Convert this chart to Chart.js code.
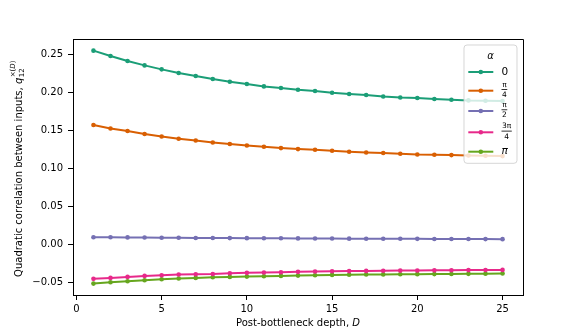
<!DOCTYPE html>
<html>
<head>
<meta charset="utf-8">
<script src="https://cdn.jsdelivr.net/npm/chart.js@4.4.1/dist/chart.umd.min.js"></script>
<style>
html,body{margin:0;padding:0;background:#fff;}
#wrap{width:581px;height:332px;position:relative;}
</style>
</head>
<body>
<div id="wrap"><canvas id="c" width="581" height="332"></canvas></div>
<script>
const depths = [1,2,3,4,5,6,7,8,9,10,11,12,13,14,15,16,17,18,19,20,21,22,23,24,25];
const alphaLabels = ['0','π/4','π/2','3π/4','π'];
const colors = ['#1b9e77','#d95f02','#7570b3','#e7298a','#66a61e'];
const alpha0 = [0.2553,0.2483,0.2417,0.2359,0.2307,0.2259,0.2220,0.2180,0.2145,0.2114,0.2083,0.2062,0.2039,0.2022,0.2000,0.1983,0.1970,0.1951,0.1938,0.1930,0.1917,0.1908,0.1899,0.1895,0.1891];
const alphaPi4 = [0.1575,0.1530,0.1496,0.1457,0.1425,0.1395,0.1372,0.1346,0.1325,0.1307,0.1289,0.1272,0.1259,0.1250,0.1237,0.1224,0.1215,0.1207,0.1197,0.1188,0.1184,0.1180,0.1175,0.1171,0.1167];
const alphaPi2 = [0.0101,0.0100,0.0098,0.0096,0.0094,0.0093,0.0091,0.0090,0.0089,0.0088,0.0087,0.0086,0.0085,0.0084,0.0083,0.0082,0.0081,0.0080,0.0080,0.0079,0.0078,0.0077,0.0077,0.0076,0.0075];
const alpha3Pi4 = [-0.0447,-0.0434,-0.0421,-0.0408,-0.0399,-0.0390,-0.0386,-0.0382,-0.0373,-0.0368,-0.0364,-0.0360,-0.0355,-0.0351,-0.0347,-0.0345,-0.0342,-0.0340,-0.0338,-0.0336,-0.0335,-0.0333,-0.0332,-0.0331,-0.0329];
const alphaPi = [-0.0509,-0.0491,-0.0478,-0.0465,-0.0452,-0.0443,-0.0434,-0.0425,-0.0421,-0.0417,-0.0412,-0.0408,-0.0404,-0.0399,-0.0395,-0.0393,-0.0390,-0.0388,-0.0386,-0.0385,-0.0384,-0.0382,-0.0381,-0.0380,-0.0377];
const xTicks = [0,5,10,15,20,25];
const yTicks = [-0.05,0.00,0.05,0.10,0.15,0.20,0.25];
const xTitle = 'Post-bottleneck depth, ';
const xTitleVar = 'D';
const yTitle = 'Quadratic correlation between inputs, ';
const legendTitle = 'α';

const seriesList = [alpha0, alphaPi4, alphaPi2, alpha3Pi4, alphaPi];
const FONT = '"DejaVu Sans", sans-serif';

const datasets = seriesList.map((s, i) => ({
  label: alphaLabels[i],
  data: s.map((v, j) => ({x: depths[j], y: v})),
  borderColor: colors[i],
  backgroundColor: colors[i],
  borderWidth: 2,
  pointRadius: 2.3,
  pointBorderWidth: 0,
  pointHoverRadius: 2.3,
  tension: 0,
  fill: false
}));

function drawFraction(ctx, x, cy, num, den, color) {
  ctx.font = '7.5px ' + FONT;
  const wn = ctx.measureText(num).width, wd = ctx.measureText(den).width;
  const w = Math.max(wn, wd) + 1;
  ctx.fillStyle = color;
  ctx.textAlign = 'center';
  ctx.textBaseline = 'middle';
  ctx.fillText(num, x + w / 2, cy - 6);
  ctx.fillText(den, x + w / 2, cy + 4.5);
  ctx.fillRect(x, cy - 1.6, w, 0.8);
}

const customPlugin = {
  id: 'custom',
  afterDraw(chart) {
    const ctx = chart.ctx;
    const a = chart.chartArea;
    ctx.save();
    ctx.strokeStyle = '#000';
    ctx.lineWidth = 1;
    ctx.beginPath();
    ctx.moveTo(a.left, a.top + 0.5);
    ctx.lineTo(a.right + 0.5, a.top + 0.5);
    ctx.lineTo(a.right + 0.5, a.bottom);
    ctx.stroke();

    // x title
    ctx.fillStyle = '#000';
    ctx.textBaseline = 'middle';
    ctx.font = '10px ' + FONT;
    const w1 = ctx.measureText(xTitle).width;
    ctx.font = 'italic 10px ' + FONT;
    const w2 = ctx.measureText(xTitleVar).width;
    const cx = (a.left + a.right) / 2;
    let sx = cx - (w1 + w2) / 2;
    ctx.textAlign = 'left';
    ctx.font = '10px ' + FONT;
    ctx.fillText(xTitle, sx, 323.5);
    ctx.font = 'italic 10px ' + FONT;
    ctx.fillText(xTitleVar, sx + w1, 323.5);

    // y title (rotated)
    ctx.save();
    ctx.translate(17.5, (a.top + a.bottom) / 2 + 2);
    ctx.rotate(-Math.PI / 2);
    ctx.font = '10px ' + FONT;
    const m = ctx.measureText(yTitle).width;
    ctx.font = 'italic 10px ' + FONT;
    const q = ctx.measureText('q').width;
    ctx.font = '7px ' + FONT;
    const sub = ctx.measureText('12').width;
    const supA = ctx.measureText('×(').width;
    ctx.font = 'italic 7px ' + FONT;
    const supD = ctx.measureText('D').width;
    ctx.font = '7px ' + FONT;
    const supC = ctx.measureText(')').width;
    const W = m + q + Math.max(sub, supA + supD + supC);
    let x0 = -W / 2;
    ctx.textAlign = 'left';
    ctx.textBaseline = 'alphabetic';
    const base = 4;
    ctx.font = '10px ' + FONT;
    ctx.fillText(yTitle, x0, base);
    x0 += m;
    ctx.font = 'italic 10px ' + FONT;
    ctx.fillText('q', x0, base);
    x0 += q + 0.5;
    ctx.font = '7px ' + FONT;
    ctx.fillText('12', x0, base + 2.5);
    ctx.fillText('×(', x0, base - 6.5);
    ctx.font = 'italic 7px ' + FONT;
    ctx.fillText('D', x0 + supA, base - 6.5);
    ctx.font = '7px ' + FONT;
    ctx.fillText(')', x0 + supA + supD, base - 6.5);
    ctx.restore();

    // legend
    const lx = 464, ly = 45, lw = 53, lh = 118.3, r = 3;
    ctx.beginPath();
    ctx.moveTo(lx + r, ly);
    ctx.lineTo(lx + lw - r, ly);
    ctx.quadraticCurveTo(lx + lw, ly, lx + lw, ly + r);
    ctx.lineTo(lx + lw, ly + lh - r);
    ctx.quadraticCurveTo(lx + lw, ly + lh, lx + lw - r, ly + lh);
    ctx.lineTo(lx + r, ly + lh);
    ctx.quadraticCurveTo(lx, ly + lh, lx, ly + lh - r);
    ctx.lineTo(lx, ly + r);
    ctx.quadraticCurveTo(lx, ly, lx + r, ly);
    ctx.closePath();
    ctx.fillStyle = 'rgba(255,255,255,0.8)';
    ctx.fill();
    ctx.strokeStyle = 'rgba(204,204,204,0.8)';
    ctx.lineWidth = 1;
    ctx.stroke();

    ctx.fillStyle = '#000';
    ctx.font = 'italic 10px ' + FONT;
    ctx.textAlign = 'center';
    ctx.textBaseline = 'middle';
    ctx.fillText(legendTitle, 490.5, 56);

    const rowY = [72, 90.7, 111, 132.3, 151.7];
    alphaLabels.forEach((lab, i) => {
      const y = rowY[i];
      ctx.strokeStyle = colors[i];
      ctx.lineWidth = 2;
      ctx.beginPath();
      ctx.moveTo(468.3, y);
      ctx.lineTo(493.3, y);
      ctx.stroke();
      ctx.fillStyle = colors[i];
      ctx.beginPath();
      ctx.arc(480.8, y, 2.3, 0, Math.PI * 2);
      ctx.fill();
      if (lab.includes('/')) {
        const [n, d] = lab.split('/');
        drawFraction(ctx, 501.5, y, n, d, '#000');
      } else {
        ctx.fillStyle = '#000';
        ctx.textAlign = 'left';
        ctx.textBaseline = 'middle';
        ctx.font = (lab === 'π' ? 'italic ' : '') + '10.5px ' + FONT;
        ctx.fillText(lab, 501.5, y);
      }
    });
    ctx.restore();
  }
};

new Chart(document.getElementById('c'), {
  type: 'line',
  data: {datasets},
  options: {
    responsive: false,
    animation: false,
    devicePixelRatio: 1,
    layout: {padding: {top: 39, right: 58, left: 0, bottom: 0}},
    plugins: {legend: {display: false}, tooltip: {enabled: false}},
    scales: {
      x: {
        type: 'linear',
        min: -0.2, max: 26.2,
        afterBuildTicks: s => { s.ticks = xTicks.map(v => ({value: v})); },
        afterFit: s => { s.height = 37; },
        grid: {drawOnChartArea: false, drawTicks: true, tickLength: 5, color: '#000', lineWidth: 1},
        border: {display: true, color: '#000', width: 1},
        ticks: {color: '#000', font: {family: FONT, size: 10}, padding: 3, maxRotation: 0,
          callback: v => String(v)}
      },
      y: {
        type: 'linear',
        min: -0.0659, max: 0.2706,
        afterBuildTicks: s => { s.ticks = yTicks.map(v => ({value: v})); },
        afterFit: s => { s.width = 73; },
        grid: {drawOnChartArea: false, drawTicks: true, tickLength: 5, color: '#000', lineWidth: 1},
        border: {display: true, color: '#000', width: 1},
        ticks: {color: '#000', font: {family: FONT, size: 10}, padding: 5,
          callback: v => (v < 0 ? '−' : '') + Math.abs(v).toFixed(2)}
      }
    }
  },
  plugins: [customPlugin]
});
</script>
</body>
</html>
